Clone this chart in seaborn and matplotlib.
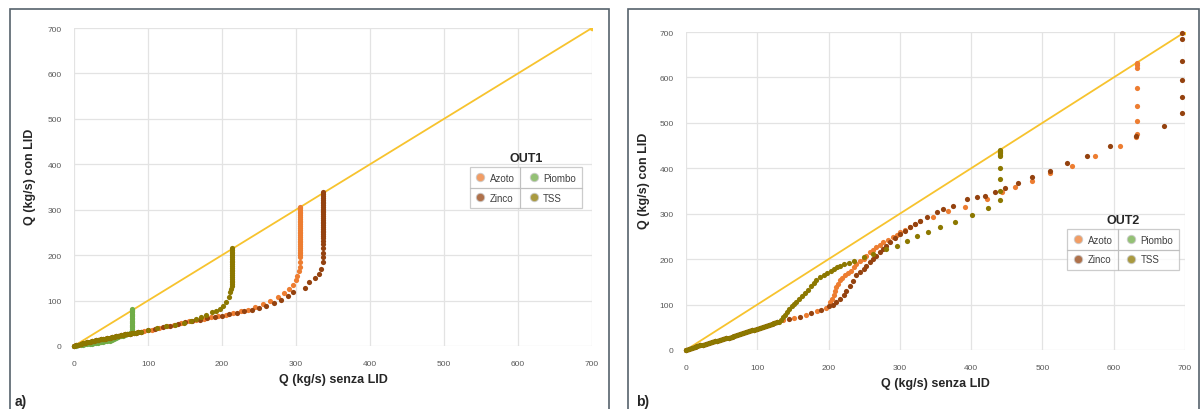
import matplotlib
matplotlib.use("Agg")
import matplotlib.pyplot as plt
from matplotlib.lines import Line2D
from matplotlib.patches import Rectangle
import pandas as pd
import seaborn as sns

# ---------------- dati pannello a) OUT1 ----------------
base_a_x = [0, 3, 6, 9, 12, 15, 18, 21, 24, 27, 30, 33, 36, 39, 42, 45, 48, 51, 54, 57, 60,
            63, 66, 69, 72, 75, 78, 81, 84, 87, 90]
base_a_y = [0, 2, 3, 4.5, 6, 7, 8, 9.5, 10.5, 11.5, 12.5, 13.5, 14.5, 15.5, 16.5, 17.5, 18.5,
            19.5, 20.5, 21.5, 22.5, 23.5, 24.5, 25.5, 26, 27, 28, 28.5, 29.5, 30.5, 31.5]

azoto_a_x = [95, 105, 115, 125, 135, 145, 155, 165, 175, 185, 195, 205, 215, 225, 235, 245,
             255, 265, 275, 284, 291, 296, 300, 302, 304, 305, 306]
azoto_a_y = [33, 36, 40, 43, 47, 50, 54, 57, 60, 63, 66, 69, 72, 76, 80, 86, 92, 99, 107, 116,
             125, 135, 145, 155, 165, 175, 186]
azoto_a_vx = 306
azoto_a_vy = [195, 200, 204, 208, 212, 216, 220, 224, 228, 232, 236, 240, 244, 248, 252, 256,
              260, 264, 268, 272, 276, 280, 284, 288, 292, 296, 300, 304, 307]

zinco_a_x = [100, 110, 120, 130, 140, 150, 160, 170, 180, 190, 200, 210, 220, 230, 240, 250,
             260, 270, 280, 289, 296, 312, 318, 325, 331, 334, 336, 336, 336, 336]
zinco_a_y = [35, 38, 41, 45, 48, 52, 55, 58, 61, 64, 67, 70, 73, 76, 80, 84, 89, 95, 102, 110,
             118, 127, 140, 149, 158, 169, 184, 195, 205, 215]
zinco_a_vx = 336
zinco_a_vy = [224, 232, 238, 242, 246, 250, 254, 258, 262, 266, 270, 274, 278, 282, 286, 290,
              294, 298, 302, 306, 310, 314, 318, 322, 326, 330, 334, 338]

tss_a_x = [100, 112, 124, 136, 148, 158, 165, 172, 179, 186, 192, 197, 202, 206, 209, 211, 212, 213]
tss_a_y = [35, 39, 43, 47, 51, 56, 60, 64, 69, 74, 77, 81, 88, 96, 107, 118, 126, 132]
tss_a_vx = 213
tss_a_vy = [136, 140, 144, 148, 152, 156, 160, 164, 168, 172, 176, 180, 184, 188, 192, 196,
            200, 204, 208, 212, 216]

piombo_a_x = [0, 3, 6, 9, 12, 15, 18, 21, 24, 27, 30, 33, 36, 39, 42, 45, 48, 51, 54, 57, 60,
              63, 66, 69, 72, 75]
piombo_a_y = [0, 0.7, 1.4, 2, 2.7, 3.4, 4, 4.7, 5.4, 6, 6.7, 7.4, 8, 9, 10, 11, 12, 13.5, 15,
              17, 19, 21, 23, 25, 27, 29]
piombo_a_vx = 78
piombo_a_vy = [32, 35, 38, 41, 44, 47, 50, 53, 56, 59, 62, 65, 68, 71, 74, 77, 80, 82]

# ---------------- dati pannello b) OUT2 ----------------
base_b_x = [0, 4, 8, 12, 16, 20, 24, 28, 32, 36, 40, 44, 48, 52, 56, 60, 64, 68, 72, 76, 80,
            84, 88, 92, 96, 100, 104, 108, 112, 116, 120, 124, 128]
base_b_y = [0, 2.5, 4.5, 6.5, 8.5, 10.5, 12, 14, 15.5, 17, 19, 20.5, 22, 24, 26, 27.5, 29, 31,
            33, 35, 37, 39, 41, 43, 45, 47, 49, 51, 53, 55, 57, 59, 61]

azoto_b_x = [136, 152, 168, 184, 196, 202, 205, 207, 209, 211, 213, 216, 219, 223, 227, 231,
             235, 239, 244, 249, 253, 258, 262, 267, 272, 277, 284, 291, 296, 300, 307, 314,
             321, 328, 347, 368, 391, 422, 443, 462, 485, 510, 541, 574, 609, 631]
azoto_b_y = [65, 71, 77, 86, 93, 105, 113, 120, 129, 138, 146, 153, 159, 164, 170, 175, 182,
             189, 195, 200, 207, 215, 220, 226, 232, 237, 243, 248, 254, 259, 265, 270, 277,
             285, 292, 305, 314, 332, 347, 358, 373, 390, 406, 426, 450, 468]
azoto_b_vx = 632
azoto_b_vy = [475, 504, 538, 577, 621, 628, 632]

zinco_b_x = [144, 160, 176, 190, 200, 206, 211, 216, 221, 225, 230, 234, 239, 244, 249, 253,
             258, 262, 267, 272, 277, 281, 286, 293, 300, 307, 314, 321, 328, 338, 352, 361,
             375, 394, 408, 419, 433, 447, 466, 486, 510, 534, 563, 595, 631, 671]
zinco_b_y = [68, 73, 81, 89, 96, 100, 105, 112, 120, 130, 141, 152, 164, 171, 178, 186, 193,
             200, 208, 215, 222, 230, 237, 246, 255, 262, 270, 278, 285, 292, 303, 310, 318,
             332, 336, 340, 347, 357, 368, 381, 395, 411, 428, 448, 471, 494]
zinco_b_vx = 696
zinco_b_vy = [522, 556, 594, 637, 684, 697]

tss_b_x = [130, 133, 136, 139, 142, 145, 148, 151, 155, 159, 163, 167, 171, 175, 179, 183, 188,
           193, 198, 203, 207, 212, 216, 221, 228, 235, 249, 263, 281, 296, 310, 324, 340, 356,
           377, 401, 424]
tss_b_y = [62, 66, 72, 78, 84, 90, 96, 101, 105, 112, 119, 126, 133, 140, 147, 153, 160, 165,
           170, 175, 178, 182, 186, 189, 192, 197, 204, 211, 222, 230, 241, 250, 259, 270, 282,
           297, 312]
tss_b_vx = 441
tss_b_vy = [330, 350, 376, 401, 426, 430, 433, 436, 439, 441]

# linea 1:1
bisettrice_x = [0, 700]
bisettrice_y = [0, 700]

serie = ["Azoto", "Piombo", "Zinco", "TSS"]
colori = {"Azoto": "#ED7D31", "Piombo": "#70AD47", "Zinco": "#94420F", "TSS": "#8C7800"}
ordine = ["Piombo", "Azoto", "Zinco", "TSS"]


def tabella(pezzi):
    righe = []
    for nome, xs, ys in pezzi:
        for x, y in zip(xs, ys):
            righe.append({"x": x, "y": y, "serie": nome})
    return pd.DataFrame(righe)


dati_a = tabella([
    ("Piombo", piombo_a_x, piombo_a_y),
    ("Piombo", [piombo_a_vx] * len(piombo_a_vy), piombo_a_vy),
    ("Azoto", base_a_x, base_a_y),
    ("Azoto", azoto_a_x, azoto_a_y),
    ("Azoto", [azoto_a_vx] * len(azoto_a_vy), azoto_a_vy),
    ("Zinco", base_a_x, base_a_y),
    ("Zinco", zinco_a_x, zinco_a_y),
    ("Zinco", [zinco_a_vx] * len(zinco_a_vy), zinco_a_vy),
    ("TSS", base_a_x, base_a_y),
    ("TSS", tss_a_x, tss_a_y),
    ("TSS", [tss_a_vx] * len(tss_a_vy), tss_a_vy),
])

dati_b = tabella([
    ("Piombo", base_b_x, base_b_y),
    ("Azoto", base_b_x, base_b_y),
    ("Azoto", azoto_b_x, azoto_b_y),
    ("Azoto", [azoto_b_vx] * len(azoto_b_vy), azoto_b_vy),
    ("Zinco", base_b_x, base_b_y),
    ("Zinco", zinco_b_x, zinco_b_y),
    ("Zinco", [zinco_b_vx] * len(zinco_b_vy), zinco_b_vy),
    ("TSS", base_b_x, base_b_y),
    ("TSS", tss_b_x, tss_b_y),
    ("TSS", [tss_b_vx] * len(tss_b_vy), tss_b_vy),
])

sns.set_style("white")
plt.rcParams["font.family"] = ["Liberation Sans", "DejaVu Sans"]
font_label = ["Liberation Sans Narrow", "Liberation Sans", "DejaVu Sans"]

fig = plt.figure(figsize=(12, 4.1), dpi=100)

# cornici dei due pannelli
fig.add_artist(Rectangle((10 / 1200, -0.02), 599 / 1200, 1.0 - 10 / 410 + 0.02,
                         transform=fig.transFigure, fill=False, ec="#56626C", lw=1.2))
fig.add_artist(Rectangle((628 / 1200, -0.02), 571 / 1200, 1.0 - 10 / 410 + 0.02,
                         transform=fig.transFigure, fill=False, ec="#56626C", lw=1.2))

pannelli = [
    (dati_a, [74 / 1200, 1 - 347 / 410, 518 / 1200, 318 / 410], "OUT1", (0.764, 0.563), "a)", 15 / 1200),
    (dati_b, [686 / 1200, 1 - 351 / 410, 499 / 1200, 318 / 410], "OUT2", (0.764, 0.381), "b)", 636 / 1200),
]

legende = []
for dati, pos, titolo, anchor, lettera, xl in pannelli:
    ax = fig.add_axes(pos)
    sns.lineplot(x=bisettrice_x, y=bisettrice_y, ax=ax, color="#F7C32E", lw=1.3,
                 marker="o", markersize=4, markeredgewidth=0, zorder=2)
    for nome in ordine:
        sub = dati[dati["serie"] == nome]
        sns.scatterplot(data=sub, x="x", y="y", ax=ax, color=colori[nome], s=14,
                        linewidth=0, legend=False, zorder=3, clip_on=False)
    ax.set_xlim(0, 700)
    ax.set_ylim(0, 700)
    ax.set_xticks(range(0, 701, 100))
    ax.set_yticks(range(0, 701, 100))
    ax.grid(True, color="#E3E3E3", lw=0.9)
    ax.set_axisbelow(True)
    for sp in ax.spines.values():
        sp.set_visible(False)
    ax.tick_params(axis="both", length=0, labelsize=6, labelcolor="#595959")
    ax.tick_params(axis="x", pad=10)
    ax.tick_params(axis="y", pad=9)
    ax.set_xlabel("Q (kg/s) senza LID", fontsize=9, fontweight="bold", family=font_label)
    ax.set_ylabel("Q (kg/s) con LID", fontsize=9, fontweight="bold", family=font_label, va="center")
    ax.xaxis.set_label_coords(0.5, -0.085)
    ax.yaxis.set_label_coords(-0.085, 0.535)

    maniglie = [Line2D([], [], ls="", marker="o", markersize=6, color=colori[n], alpha=0.75,
                       markeredgecolor="#C8C8C8", markeredgewidth=0.8)
                for n in ["Azoto", "Zinco", "Piombo", "TSS"]]
    leg = ax.legend(maniglie, ["Azoto", "Zinco", "Piombo", "TSS"], ncol=2, loc="upper left",
                    bbox_to_anchor=anchor, borderaxespad=0, fontsize=7, frameon=True,
                    fancybox=False, edgecolor="#C0C0C0", handlelength=1.0, handletextpad=0.5,
                    columnspacing=1.4, labelspacing=1.0, borderpad=0.6)
    leg.get_frame().set_linewidth(0.9)
    for t in leg.get_texts():
        t.set_color("#404040")
    legende.append((leg, titolo))

    fig.text(xl, 0.003, lettera, fontsize=10, fontweight="bold", ha="left", va="bottom")

# titoli e divisori interni delle legende
fig.canvas.draw()
renderer = fig.canvas.get_renderer()
inv = fig.transFigure.inverted()
for leg, titolo in legende:
    bb = leg.get_frame().get_window_extent(renderer)
    t0 = leg.get_texts()[0].get_window_extent(renderer)
    xd = t0.x1 + 5
    ym = (bb.y0 + bb.y1) / 2
    (fx0, fy0) = inv.transform((bb.x0, bb.y0))
    (fx1, fy1) = inv.transform((bb.x1, bb.y1))
    (fxd, fym) = inv.transform((xd, ym))
    fig.add_artist(Line2D([fxd, fxd], [fy0, fy1], transform=fig.transFigure, color="#C0C0C0", lw=0.9))
    fig.add_artist(Line2D([fx0, fx1], [fym, fym], transform=fig.transFigure, color="#C0C0C0", lw=0.9))
    fig.text((fx0 + fx1) / 2, fy1 + 0.008, titolo, ha="center", va="bottom", fontsize=9,
             fontweight="bold")

fig.savefig("out.png", dpi=100)
